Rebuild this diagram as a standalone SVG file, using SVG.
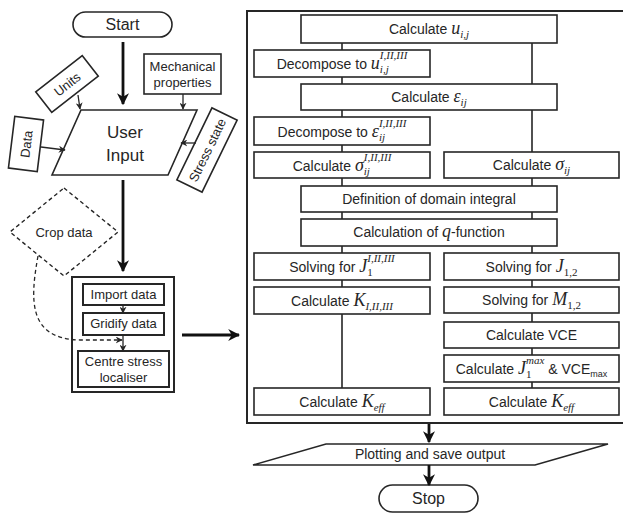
<svg xmlns="http://www.w3.org/2000/svg" width="623" height="514" viewBox="0 0 623 514">
<defs>
<style>
.b{fill:#fff;stroke:#262626;stroke-width:1.6}
.bt{fill:#fff;stroke:#262626;stroke-width:2}
.d{fill:#fff;stroke:#262626;stroke-width:1.4;stroke-dasharray:4 3}
.t{font-family:"Liberation Sans",Arial,sans-serif;font-size:14px;fill:#262626;text-anchor:middle}
.t13{font-size:13px}
.m{font-family:"Liberation Serif","Times New Roman",serif;font-style:italic;font-size:18px}
.s{font-family:"Liberation Serif","Times New Roman",serif;font-style:italic;font-size:11px}
.su{font-family:"Liberation Serif","Times New Roman",serif;font-size:11px}
.ln{fill:none;stroke:#262626;stroke-width:1.6}
.thick{fill:none;stroke:#111;stroke-width:2.8}
.thin{fill:none;stroke:#262626;stroke-width:1.3}
</style>
<marker id="ah" viewBox="0 0 10 10" refX="9" refY="5" markerWidth="12" markerHeight="12" markerUnits="userSpaceOnUse" orient="auto"><path d="M0,0 L10,5 L0,10 L3,5 z" fill="#111"/></marker>
<marker id="as" viewBox="0 0 10 10" refX="9" refY="5" markerWidth="7" markerHeight="7" markerUnits="userSpaceOnUse" orient="auto"><path d="M0,0 L10,5 L0,10 L3,5 z" fill="#262626"/></marker>
</defs>
<rect width="623" height="514" fill="#fff"/>

<g id="start"><rect class="b" x="73" y="12" width="99" height="25" rx="12.5"/><text class="t" x="122.5" y="30" style="font-size:16px">Start</text></g>
<g id="user-input"><polygon class="b" points="81,110 197,110 168,175 52,175"/><text class="t" x="125" y="138" style="font-size:17px">User</text><text class="t" x="125" y="161" style="font-size:17px">Input</text></g>
<g id="units" transform="translate(67,84) rotate(-38)"><rect class="b" x="-29.5" y="-13" width="59" height="26"/><text class="t t13" x="0" y="5">Units</text></g>
<g id="mechanical"><rect class="b" x="144" y="54" width="77" height="40"/><text class="t t13" x="182.5" y="71">Mechanical</text><text class="t t13" x="182.5" y="87">properties</text></g>
<g id="data" transform="translate(26,144) rotate(-83)"><rect class="b" x="-26" y="-14.5" width="52" height="29"/><text class="t t13" x="0" y="5">Data</text></g>
<g id="stress-state" transform="translate(207,150) rotate(-64)"><rect class="b" x="-40" y="-14" width="80" height="28"/><text class="t t13" x="0" y="5">Stress state</text></g>
<g id="crop-data"><polygon class="d" points="64,188 118,232 64,276 10,232"/><text class="t t13" x="64" y="237">Crop data</text></g>

<g id="preprocess"><rect x="72" y="277" width="102" height="115" fill="none" stroke="#262626" stroke-width="2"/>
<g id="import"><rect class="bt" x="83" y="284" width="81" height="21"/><text class="t t13" x="123.5" y="299">Import data</text></g>
<g id="gridify"><rect class="bt" x="83" y="313" width="81" height="22"/><text class="t t13" x="123.5" y="328">Gridify data</text></g>
<g id="centre"><rect class="bt" x="78" y="351" width="91" height="36"/><text class="t t13" x="123.5" y="366">Centre stress</text><text class="t t13" x="123.5" y="382">localiser</text></g>
</g>

<g id="main-box"><rect x="247" y="11" width="380" height="412" fill="none" stroke="#262626" stroke-width="2"/></g>

<g id="calc-u"><rect class="b" x="301" y="15" width="256" height="28"/><text class="t" x="429" y="34">Calculate <tspan class="m">u</tspan><tspan class="s" dy="4">i,j</tspan></text></g>
<g id="decomp-u"><rect class="b" x="254" y="50" width="176" height="27"/><text class="t" x="342" y="69">Decompose to <tspan class="m">u</tspan><tspan class="s" dy="4">i,j</tspan><tspan class="s" dx="-8.9" dy="-14">I,II,III</tspan></text></g>
<g id="calc-eps"><rect class="b" x="301" y="84" width="256" height="26"/><text class="t" x="429" y="102">Calculate <tspan class="m">ε</tspan><tspan class="s" dy="4">ij</tspan></text></g>
<g id="decomp-eps"><rect class="b" x="254" y="117" width="176" height="28"/><text class="t" x="342" y="137">Decompose to <tspan class="m">ε</tspan><tspan class="s" dy="4">ij</tspan><tspan class="s" dx="-6.1" dy="-14">I,II,III</tspan></text></g>
<g id="calc-sigma-modes"><rect class="b" x="254" y="152" width="176" height="26"/><text class="t" x="342" y="171">Calculate <tspan class="m">σ</tspan><tspan class="s" dy="4">ij</tspan><tspan class="s" dx="-6.1" dy="-14">I,II,III</tspan></text></g>
<g id="calc-sigma"><rect class="b" x="444" y="152" width="175" height="26"/><text class="t" x="531.5" y="170">Calculate <tspan class="m">σ</tspan><tspan class="s" dy="4">ij</tspan></text></g>
<g id="domain"><rect class="b" x="301" y="186" width="256" height="26"/><text class="t" x="429" y="204">Definition of domain integral</text></g>
<g id="qfunc"><rect class="b" x="301" y="219" width="256" height="27"/><text class="t" x="429" y="237">Calculation of <tspan class="m">q</tspan>-function</text></g>
<g id="solve-j-modes"><rect class="b" x="254" y="253" width="176" height="27"/><text class="t" x="342" y="272">Solving for <tspan class="m">J</tspan><tspan class="su" dy="4">1</tspan><tspan class="s" dx="-5.5" dy="-14">I,II,III</tspan></text></g>
<g id="solve-j12"><rect class="b" x="444" y="253" width="175" height="27"/><text class="t" x="531.5" y="272">Solving for <tspan class="m">J</tspan><tspan class="su" dy="4">1,2</tspan></text></g>
<g id="calc-k-modes"><rect class="b" x="254" y="287" width="176" height="27"/><text class="t" x="342" y="306">Calculate <tspan class="m">K</tspan><tspan class="s" dy="4">I,II,III</tspan></text></g>
<g id="solve-m12"><rect class="b" x="444" y="287" width="175" height="26"/><text class="t" x="531.5" y="305">Solving for <tspan class="m">M</tspan><tspan class="su" dy="4">1,2</tspan></text></g>
<g id="calc-vce"><rect class="b" x="444" y="322" width="175" height="26"/><text class="t" x="531.5" y="340">Calculate VCE</text></g>
<g id="calc-max"><rect class="b" x="444" y="355" width="175" height="27"/><text class="t" x="531.5" y="374">Calculate <tspan class="m">J</tspan><tspan class="su" dy="4">1</tspan><tspan class="s" dx="-5.5" dy="-14">max</tspan><tspan dy="10"> &amp; VCE</tspan><tspan dy="3" style="font-size:9px">max</tspan></text></g>
<g id="keff-right"><rect class="b" x="444" y="388" width="175" height="27"/><text class="t" x="531.5" y="407">Calculate <tspan class="m">K</tspan><tspan class="s" dy="4">eff</tspan></text></g>
<g id="keff-left"><rect class="b" x="254" y="388" width="176" height="27"/><text class="t" x="342" y="407">Calculate <tspan class="m">K</tspan><tspan class="s" dy="4">eff</tspan></text></g>

<g id="plotting"><polygon class="b" points="326,444 608,444 535,465 253,465"/><text class="t" x="430" y="459">Plotting and save output</text></g>
<g id="stop"><rect class="b" x="379" y="485" width="99" height="27" rx="13.5"/><text class="t" x="428.5" y="504" style="font-size:16px">Stop</text></g>

<g id="connectors">
<line class="thick" x1="123" y1="42" x2="123" y2="104" marker-end="url(#ah)"/>
<line class="thick" x1="123" y1="180" x2="123" y2="271" marker-end="url(#ah)"/>
<line class="thin" x1="78" y1="95" x2="80" y2="109" marker-end="url(#as)"/>
<line class="thin" x1="183" y1="94" x2="183" y2="109" marker-end="url(#as)"/>
<line class="thin" x1="41" y1="147" x2="65" y2="150" marker-end="url(#as)"/>
<line class="thin" x1="196" y1="143" x2="181" y2="143" marker-end="url(#as)"/>
<path class="thin" d="M38,256 C30,300 28,339 80,340 L122,340" stroke-dasharray="4 3" marker-end="url(#as)"/>
<line class="thin" x1="123" y1="305" x2="123" y2="313" marker-end="url(#as)"/>
<line class="thin" x1="123" y1="335" x2="123" y2="351" marker-end="url(#as)"/>
<line class="thick" x1="182" y1="335" x2="239" y2="335" marker-end="url(#ah)"/>
<line class="thick" x1="429" y1="424" x2="429" y2="442" marker-end="url(#ah)"/>
<line class="thick" x1="429" y1="465" x2="429" y2="485" marker-end="url(#ah)"/>
<path class="ln" d="M342,43 V50 M342,77 V84 M342,110 V117 M342,145 V152 M342,178 V186 M342,212 V219 M342,246 V253 M342,280 V287 M342,314 V388"/>
<path class="ln" d="M532,43 V84 M532,110 V152 M532,178 V186 M532,212 V219 M532,246 V253 M532,280 V287 M532,313 V322 M532,348 V355 M532,382 V388"/>
</g>
</svg>
